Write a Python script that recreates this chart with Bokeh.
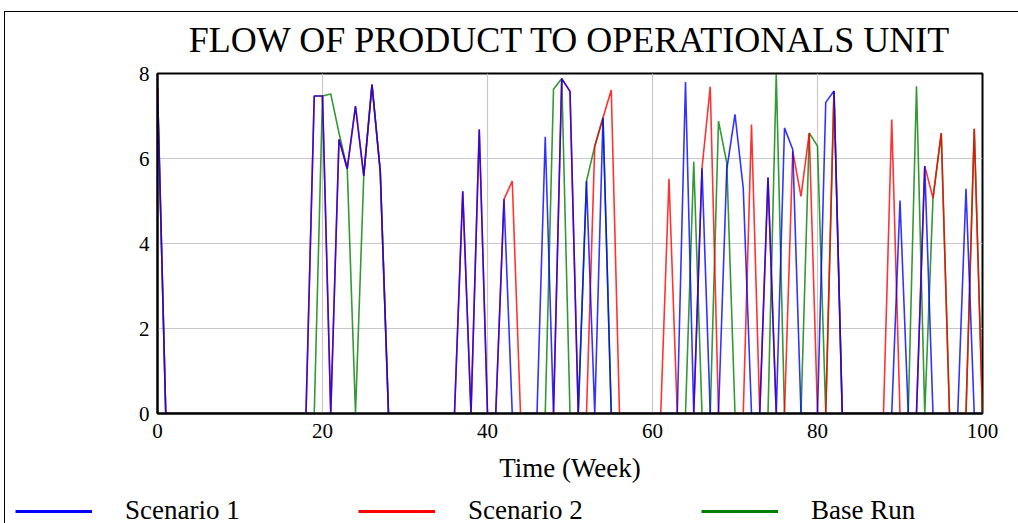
from bokeh.plotting import figure
from bokeh.models import Range1d, Legend
from bokeh.layouts import column
from bokeh.embed import file_html
from bokeh.resources import INLINE

weeks = list(range(0, 101))

scenario_1 = [
    7.67, 0, 0, 0, 0, 0, 0, 0, 0, 0,
    0, 0, 0, 0, 0, 0, 0, 0, 0, 7.47,
    7.47, 0, 6.45, 5.76, 7.23, 5.59, 7.74, 5.70, 0, 0,
    0, 0, 0, 0, 0, 0, 0, 5.23, 0, 6.68,
    0, 0, 5.04, 0, 0, 0, 0, 6.51, 0, 7.88,
    7.58, 0, 5.47, 0, 6.96, 0, 0, 0, 0, 0,
    0, 0, 0, 0, 7.80, 0, 5.77, 0, 0, 5.74,
    7.04, 5.30, 0, 0, 5.55, 0, 6.72, 6.21, 0, 0,
    0, 7.32, 7.59, 0, 0, 0, 0, 0, 0, 0,
    5.01, 0, 0, 5.82, 0, 0, 0, 0, 5.29, 0,
    0,
]

scenario_2 = [
    7.67, 0, 0, 0, 0, 0, 0, 0, 0, 0,
    0, 0, 0, 0, 0, 0, 0, 0, 0, 7.47,
    7.47, 0, 6.45, 5.76, 7.23, 5.59, 7.74, 5.70, 0, 0,
    0, 0, 0, 0, 0, 0, 0, 5.23, 0, 6.68,
    0, 0, 5.04, 5.47, 0, 0, 0, 0, 0, 7.88,
    7.58, 0, 0, 6.29, 6.96, 7.61, 0, 0, 0, 0,
    0, 0, 5.52, 0, 0, 0, 5.77, 7.69, 0, 0,
    0, 0, 6.80, 0, 5.55, 0, 0, 6.17, 5.11, 6.60,
    0, 0, 7.59, 0, 0, 0, 0, 0, 0, 6.92,
    0, 0, 0, 5.82, 5.07, 6.60, 0, 0, 0, 6.70,
    0,
]

base_run = [
    7.67, 0, 0, 0, 0, 0, 0, 0, 0, 0,
    0, 0, 0, 0, 0, 0, 0, 0, 0, 0,
    7.47, 7.52, 6.60, 5.76, 0, 5.59, 7.74, 5.70, 0, 0,
    0, 0, 0, 0, 0, 0, 0, 0, 0, 0,
    0, 0, 0, 0, 0, 0, 0, 0, 7.63, 7.88,
    0, 0, 5.47, 6.29, 6.96, 0, 0, 0, 0, 0,
    0, 0, 0, 0, 0, 5.92, 0, 0, 6.88, 5.90,
    0, 0, 0, 0, 0, 7.98, 0, 0, 0, 6.60,
    6.29, 0, 7.59, 0, 0, 0, 0, 0, 0, 0,
    0, 0, 7.70, 0, 5.07, 6.60, 0, 0, 0, 6.70,
    0,
]

x_ticks = [0, 20, 40, 60, 80, 100]
y_ticks = [0, 2, 4, 6, 8]
series_names = ["Scenario 1", "Scenario 2", "Base Run"]
series_colors = ["#0000ff", "#ff0000", "#008000"]
series_values = [scenario_1, scenario_2, base_run]

SERIF = "Liberation Serif"

p = figure(
    width=1013, height=490,
    output_backend="svg", toolbar_location=None,
    x_range=Range1d(0, 100), y_range=Range1d(0, 8),
    min_border_left=152, min_border_right=36,
    min_border_top=20, min_border_bottom=80,
    title="FLOW OF PRODUCT TO OPERATIONALS UNIT",
)
p.frame_align = False
p.border_fill_color = None
p.styles = {"margin-top": "-9px"}

p.title.text_font = SERIF
p.title.text_font_size = "36px"
p.title.text_font_style = "normal"
p.title.align = "center"
p.title.text_color = "black"
p.title.standoff = 28

p.outline_line_color = "black"
p.outline_line_width = 2
p.outline_line_alpha = 1

for ax in (p.xaxis[0], p.yaxis[0]):
    ax.axis_line_color = "black"
    ax.axis_line_width = 2
    ax.major_tick_line_color = None
    ax.minor_tick_line_color = None
    ax.major_label_text_font = SERIF
    ax.major_label_text_font_size = "21px"
    ax.major_label_text_color = "black"

p.xaxis.major_label_standoff = 4
p.yaxis.major_label_standoff = 2
p.xaxis.ticker = x_ticks
p.yaxis.ticker = y_ticks
p.xaxis.axis_label = "Time (Week)"
p.xaxis.axis_label_text_font = SERIF
p.xaxis.axis_label_text_font_size = "27px"
p.xaxis.axis_label_text_font_style = "normal"
p.xaxis.axis_label_text_color = "black"
p.xaxis.axis_label_standoff = 12

p.xgrid.grid_line_color = "#c8c8c8"
p.ygrid.grid_line_color = "#c8c8c8"
p.xgrid.grid_line_width = 1.2
p.ygrid.grid_line_width = 1.2

# base run drawn first, scenario 1 last (on top)
for vals, col in zip(reversed(series_values), reversed(series_colors)):
    p.line(weeks, vals, line_color=col, line_width=1.6, line_alpha=0.8)

# legend strip under the chart: same series, drawn outside its visible range
lg = figure(
    width=1013, height=30,
    output_backend="svg", toolbar_location=None,
    x_range=Range1d(0, 100), y_range=Range1d(-20, -10),
    min_border=0,
)
lg.frame_align = False
lg.axis.visible = False
lg.grid.visible = False
lg.outline_line_color = None
legend_renderers = [
    lg.line(weeks, vals, line_color=c, line_width=3)
    for vals, c in zip(series_values, series_colors)
]
legend = Legend(
    items=[(n, [r]) for n, r in zip(series_names, legend_renderers)],
    orientation="horizontal",
    location=(10, -3),
    glyph_width=77, glyph_height=20,
    label_standoff=33, label_width=233, spacing=0,
    padding=0, margin=0,
    border_line_alpha=0, background_fill_alpha=0,
    label_text_font=SERIF, label_text_font_size="27px",
    label_text_color="black",
)
lg.add_layout(legend, "center")

layout = column(
    p, lg, spacing=0,
    styles={
        "border-top": "1px solid black",
        "border-left": "1px solid black",
        "margin-top": "11px",
        "margin-left": "4px",
    },
)

open("out.html", "w").write(file_html(layout, INLINE))
